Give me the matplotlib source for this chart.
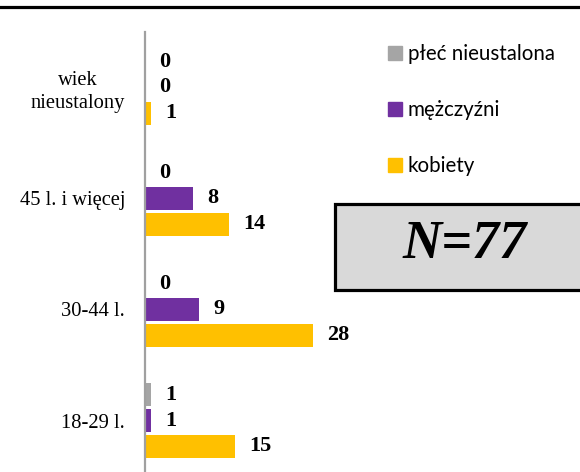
import matplotlib.pyplot as plt
import numpy as np
from matplotlib.patches import Rectangle
from matplotlib.lines import Line2D

# age groups from bottom to top
groups = ['18-29 l.', '30-44 l.', '45 l. i więcej', 'wiek\nnieustalony']
kobiety = [15, 28, 14, 1]
mezczyzni = [1, 9, 8, 0]
nieustalona = [1, 0, 0, 0]
series_names = ['płeć nieustalona', 'mężczyźni', 'kobiety']
colors = ['#A5A5A5', '#7030A0', '#FFC000']

fig = plt.figure(figsize=(5.8, 4.72), dpi=100)
ax = fig.add_axes([144.5 / 580, -4 / 472, 240 / 580, 444 / 472])

y = np.arange(len(groups))
off = 0.234
h = 0.207
vals = [nieustalona, mezczyzni, kobiety]
for i, (v, c, name) in enumerate(zip(vals, colors, series_names)):
    b = ax.barh(y + off * (1 - i), v, height=h, color=c, label=name)
    ax.bar_label(b, padding=10.5, fontsize=16, fontweight='bold',
                 family='Liberation Serif')

ax.set_xlim(0, 40)
ax.set_ylim(-0.5, 3.5)
ax.set_yticks(y)
ax.set_yticklabels(groups, family='Liberation Serif', fontsize=14.8)
for t in ax.get_yticklabels():
    t.set_multialignment('center')
    t.set_linespacing(1.3)
ax.tick_params(axis='y', length=0, pad=14)
ax.set_xticks([])
for s in ['top', 'right', 'bottom']:
    ax.spines[s].set_visible(False)
ax.spines['left'].set_color('#A0A0A0')
ax.spines['left'].set_linewidth(1.6)

# legend
handles = [Line2D([], [], marker='s', linestyle='none', markersize=9.5,
                  markerfacecolor=c, markeredgecolor=c) for c in colors]
fig.legend(handles, series_names, loc='upper left',
           bbox_to_anchor=(389 / 580, 1 - 44 / 472), frameon=False,
           prop={'family': 'Lato', 'size': 14.8}, labelspacing=1.76,
           handlelength=0.62, handletextpad=0.3, borderpad=0, borderaxespad=0)

# N box
fig.patches.append(Rectangle((335 / 580, 1 - 290 / 472), 260 / 580, 86 / 472,
                             transform=fig.transFigure, facecolor='#D9D9D9',
                             edgecolor='black', linewidth=2.3))
fig.text(465 / 580, 1 - 245 / 472, 'N=77', ha='center', va='center',
         fontsize=39, fontweight='bold', fontstyle='italic',
         family='Liberation Serif')

# top rule
fig.add_artist(Line2D([0, 1], [1 - 6.5 / 472, 1 - 6.5 / 472],
                      transform=fig.transFigure, color='black', linewidth=2.3))

fig.savefig('out.png', dpi=100)
